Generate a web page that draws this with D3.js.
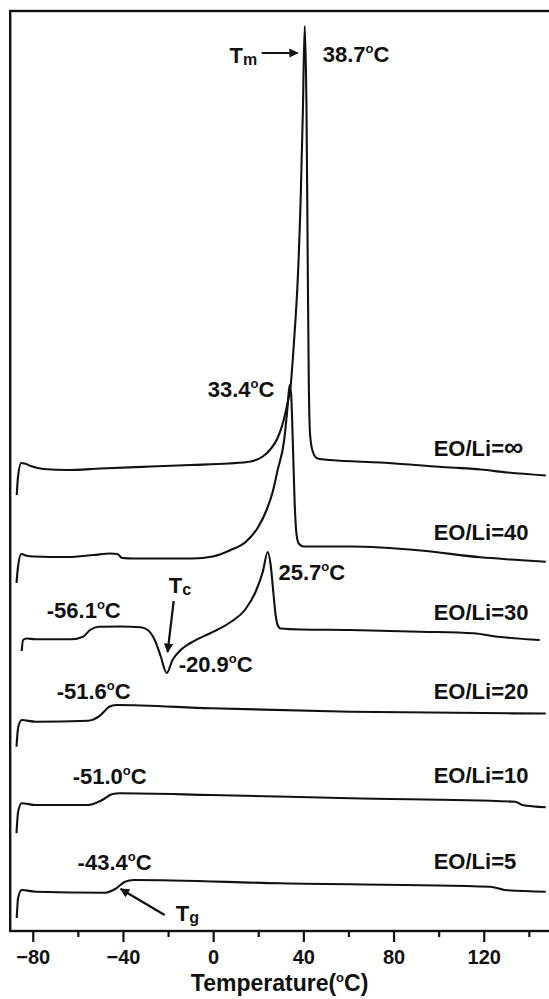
<!DOCTYPE html>
<html>
<head>
<meta charset="utf-8">
<script src="https://cdn.jsdelivr.net/npm/d3@7"></script>
<style>
  body { margin: 0; background: #fff; }
  svg text { font-family: "Liberation Sans", Arial, sans-serif; font-weight: bold; fill: #111; }
</style>
</head>
<body>
<svg id="dsc" width="549" height="999"></svg>
<script>
// DSC traces: [temperature (°C), heat flow (a.u., stacked)]
var curveInf = [[-87.1,43.6],[-86.5,45.5],[-85.1,46.8],[-83.6,46.75],[-80.9,46.5],[-75.2,46.2],[-64.5,46.1],
  [-49.9,46.25],[-27.7,46.45],[-10.0,46.6],[6.9,46.75],[16.6,46.95],[22.0,47.45],[25.5,48.2],[28.6,49.3],
  [31.3,51.1],[33.0,52.8],[34.4,54.6],[35.9,59.1],[37.5,65.1],[38.8,73.1],[39.8,82.1],[40.6,90.5],
  [41.4,82.1],[41.9,68.1],[42.4,55.1],[43.0,49.6],[44.1,48.0],[46.3,47.25],[52.1,47.1],[74.3,46.85],
  [105.3,46.35],[118.6,46.15],[130.6,45.85],[147.5,45.55]];
var curve40 = [[-87.2,34.8],[-86.5,36.5],[-85.1,37.7],[-83.1,37.55],[-79.6,37.45],[-64.5,37.4],[-53.0,37.6],
  [-45.5,37.75],[-42.5,37.7],[-40.3,37.3],[-35.3,37.25],[-23.3,37.25],[-9.1,37.25],[-0.2,37.45],[7.8,38.1],
  [14.4,38.9],[19.7,40.3],[23.7,42.1],[26.4,43.9],[28.6,46.1],[31.5,49.1],[33.0,52.4],[33.9,54.6],
  [34.6,53.6],[35.3,49.1],[36.1,43.1],[37.0,39.6],[38.1,38.7],[40.1,38.45],[61.0,38.45],[92.0,38.05],
  [118.6,37.37],[131.9,37.15],[147.5,36.93]];
var curve30 = [[-84.9,28.0],[-84.3,29.1],[-82.7,29.25],[-78.7,29.17],[-63.2,29.17],[-57.7,29.43],[-54.6,30.1],
  [-50.8,30.43],[-41.0,30.45],[-32.2,30.37],[-29.0,30.1],[-25.9,29.1],[-23.3,27.5],[-20.6,25.8],[-18.0,27.1],
  [-14.4,28.1],[-10.0,28.8],[-1.1,29.8],[7.8,30.9],[14.4,32.2],[18.8,33.9],[22.0,35.9],[24.2,37.9],
  [25.5,36.6],[26.8,33.6],[27.7,31.6],[28.6,30.6],[29.9,30.25],[38.8,30.15],[61.0,30.1],[92.0,29.93],
  [115.4,29.77],[126.2,29.43],[144.8,29.1]];
var curve20 = [[-87.2,18.43],[-86.5,20.3],[-84.9,21.1],[-78.7,20.93],[-55.4,21.03],[-50.8,21.43],[-48.1,22.0],
  [-46.1,22.43],[-43.0,22.6],[-1.1,22.27],[61.0,21.93],[147.5,21.75]];
var curve10 = [[-87.2,9.77],[-86.5,11.9],[-84.9,12.77],[-78.7,12.6],[-55.4,12.6],[-49.2,13.1],[-44.6,13.7],
  [-41.5,13.77],[-1.1,13.6],[61.0,13.27],[134.0,12.93],[137.1,12.6],[147.5,12.37]];
var curve5 = [[-87.1,1.3],[-86.5,3.3],[-84.9,4.1],[-78.7,3.93],[-47.7,3.83],[-43.0,4.27],[-39.1,4.93],
  [-35.3,5.1],[29.9,4.77],[122.9,4.43],[129.3,4.1],[147.5,3.93]];

var seriesRatios = ["\u221E", "40", "30", "20", "10", "5"];
var seriesLabelY = [47.5, 39.1, 31.1, 23.2, 14.8, 6.2];
var seriesLabelX = 97.8;

var majorTicks = [-80, -40, 0, 40, 80, 120];
var minorTicks = [-60, -20, 20, 60, 100, 140];

// temperature labels: [text, T, value]
var tempLabels = [["38.7", 48.6, 86.9], ["33.4", -2.4, 53.4], ["25.7", 29.0, 35.1], ["-56.1", -73.8, 31.3],
  ["-20.9", -15.3, 25.9], ["-51.6", -69.4, 23.2], ["-51.0", -62.3, 14.7], ["-43.4", -60.1, 6.1]];
// transition markers: [main, sub, T, value, arrow from T, from v, to T, to v]
var markers = [["T", "m", 7.3, 86.8, 21.5, 87.8, 37.5, 87.8],
  ["T", "c", -19.7, 33.8, -17.5, 33.0, -20.2, 27.9],
  ["T", "g", -16.6, 1.0, -21.5, 1.6, -41.0, 4.2]];

var svg = d3.select("#dsc");
var x = d3.scaleLinear().domain([-90, 150]).range([10.2, 551.4]);
var y = d3.scaleLinear().domain([0, 92]).range([931, 11]);

// frame (right side runs past the picture edge)
svg.append("rect")
  .attr("x", x(-90)).attr("y", y(92))
  .attr("width", x(150) - x(-90) + 2).attr("height", y(0) - y(92))
  .attr("fill", "none").attr("stroke", "#111").attr("stroke-width", 2.4);

var xAxis = svg.append("g").attr("transform", "translate(0," + y(0) + ")");
xAxis.call(d3.axisBottom(x).tickValues(majorTicks).tickSize(11).tickSizeOuter(0).tickPadding(8)
  .tickFormat(d3.format("d")));
xAxis.append("g").call(d3.axisBottom(x).tickValues(minorTicks).tickSize(6).tickFormat(""));
xAxis.selectAll(".domain").remove();
xAxis.selectAll("line").attr("stroke", "#111").attr("stroke-width", 2.2);
xAxis.selectAll("text").style("font-size", "20px").style("font-family", "Liberation Sans, Arial, sans-serif")
  .style("font-weight", "bold").attr("fill", "#111");

var title = svg.append("text").attr("x", (x(-90) + 549) / 2).attr("y", 991)
  .attr("text-anchor", "middle").style("font-size", "23px");
title.append("tspan").text("Temperature(");
title.append("tspan").text("o").style("font-size", "13px").attr("dy", -9);
title.append("tspan").text("C)").attr("dy", 9);

var line = d3.line().x(function (d) { return x(d[0]); }).y(function (d) { return y(d[1]); })
  .curve(d3.curveMonotoneX);

svg.append("g").selectAll("path")
  .data([curveInf, curve40, curve30, curve20, curve10, curve5])
  .enter().append("path")
  .attr("d", line)
  .attr("fill", "none").attr("stroke", "#111").attr("stroke-width", 2.1)
  .attr("stroke-linejoin", "round");

var sl = svg.append("g").selectAll("text")
  .data(seriesRatios).enter().append("text")
  .attr("x", x(seriesLabelX))
  .attr("y", function (d, i) { return y(seriesLabelY[i]); })
  .style("font-size", "22px");
sl.append("tspan").text("EO/Li=");
sl.append("tspan").text(function (d) { return d; })
  .style("font-size", function (d) { return d === "\u221E" ? "27px" : "22px"; });

var tl = svg.append("g").selectAll("text")
  .data(tempLabels).enter().append("text")
  .attr("x", function (d) { return x(d[1]); })
  .attr("y", function (d) { return y(d[2]); })
  .style("font-size", "22px");
tl.append("tspan").text(function (d) { return d[0]; });
tl.append("tspan").text("o").style("font-size", "13px").attr("dy", -9);
tl.append("tspan").text("C").attr("dy", 9);

svg.append("defs").append("marker")
  .attr("id", "head").attr("viewBox", "0 0 10 10").attr("refX", 9).attr("refY", 5)
  .attr("markerWidth", 6).attr("markerHeight", 4.2).attr("orient", "auto")
  .append("path").attr("d", "M0,0L10,5L0,10Z").attr("fill", "#111");

var mk = svg.append("g").selectAll("g").data(markers).enter().append("g");
var mt = mk.append("text")
  .attr("x", function (d) { return x(d[2]); })
  .attr("y", function (d) { return y(d[3]); })
  .style("font-size", "22px");
mt.append("tspan").text(function (d) { return d[0]; });
mt.append("tspan").text(function (d) { return d[1]; }).style("font-size", "16px").attr("dy", 2);
mk.append("line")
  .attr("x1", function (d) { return x(d[4]); }).attr("y1", function (d) { return y(d[5]); })
  .attr("x2", function (d) { return x(d[6]); }).attr("y2", function (d) { return y(d[7]); })
  .attr("stroke", "#111").attr("stroke-width", 2.2)
  .attr("marker-end", "url(#head)");
</script>
</body>
</html>
